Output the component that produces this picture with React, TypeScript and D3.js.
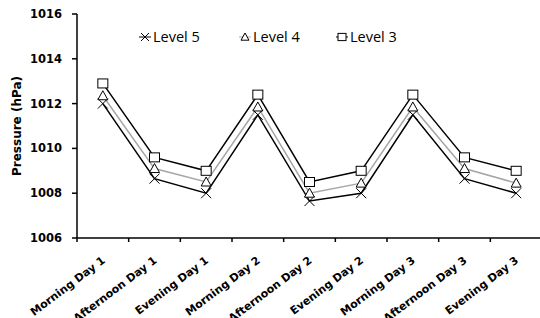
import React from 'react';
import * as d3 from 'd3';

const categories = ["Morning Day 1", "Afternoon Day 1", "Evening Day 1", "Morning Day 2", "Afternoon Day 2", "Evening Day 2", "Morning Day 3", "Afternoon Day 3", "Evening Day 3"];
const level5 = [1012.0, 1008.65, 1008.0, 1011.5, 1007.65, 1008.0, 1011.5, 1008.65, 1008.0];
const level4 = [1012.35, 1009.1, 1008.5, 1011.85, 1008.0, 1008.45, 1011.85, 1009.1, 1008.45];
const level3 = [1012.9, 1009.6, 1009.0, 1012.4, 1008.5, 1009.0, 1012.4, 1009.6, 1009.0];
const yTicks = [1006, 1008, 1010, 1012, 1014, 1016];

const series = [
  { name: 'Level 5', values: level5, color: '#000', marker: 'x' },
  { name: 'Level 4', values: level4, color: '#a6a6a6', marker: 'tri' },
  { name: 'Level 3', values: level3, color: '#000', marker: 'sq' },
];

const W = 540, H = 318;
const left = 77, right = 542, top = 14, bottom = 238;

const x = d3.scaleBand<string>().domain(categories).range([left, right]);
const y = d3.scaleLinear().domain([1006, 1016]).range([bottom, top]);

function Marker({ type, cx, cy, s = 5 }: { type: string; cx: number; cy: number; s?: number }) {
  if (type === 'x') {
    return <path d={`M${cx - s},${cy - s}L${cx + s},${cy + s}M${cx - s},${cy + s}L${cx + s},${cy - s}`} stroke="#000" strokeWidth={1} fill="none" />;
  }
  if (type === 'tri') {
    return <path d={`M${cx},${cy - s}L${cx + s},${cy + s * 0.8}L${cx - s},${cy + s * 0.8}Z`} stroke="#000" strokeWidth={1} fill="#fff" />;
  }
  return <rect x={cx - s} y={cy - s * 0.9} width={2 * s} height={s * 1.8} stroke="#000" strokeWidth={1} fill="#fff" />;
}

export default function App() {
  const line = d3.line<number>().x((_, i) => x(categories[i])! + x.bandwidth() / 2).y(d => y(d));
  const legendX = [145, 245, 342];
  return (
    <svg width={W} height={H} style={{ position: 'absolute', left: 0, top: 0, background: '#fff' }}>
      {/* y axis */}
      <line x1={left} x2={left} y1={top} y2={bottom} stroke="#000" strokeWidth={1.5} />
      {yTicks.map(t => (
        <g key={t}>
          <line x1={left - 5} x2={left} y1={y(t)} y2={y(t)} stroke="#000" strokeWidth={1.5} />
          <text x={62} y={y(t)} dy="0.35em" textAnchor="end" fontFamily="DejaVu Sans" fontWeight="bold" fontSize={11.5}>{t}</text>
        </g>
      ))}
      <text transform={`translate(21,${(top + bottom) / 2}) rotate(-90)`} textAnchor="middle" fontFamily="DejaVu Sans" fontWeight="bold" fontSize={12}>Pressure (hPa)</text>
      {/* x axis */}
      <line x1={left} x2={right} y1={bottom} y2={bottom} stroke="#000" strokeWidth={1.5} />
      {categories.map(c => (
        <g key={c}>
          <line x1={x(c)!} x2={x(c)!} y1={bottom} y2={bottom + 4} stroke="#000" strokeWidth={1.5} />
          <text transform={`translate(${x(c)! + x.bandwidth() / 2 + 3},${bottom + 24}) rotate(-37)`} textAnchor="end" fontFamily="DejaVu Sans" fontWeight="bold" fontSize={11}>{c}</text>
        </g>
      ))}
      {/* lines */}
      {series.map(s => (
        <path key={s.name} d={line(s.values)!} fill="none" stroke={s.color} strokeWidth={1.5} />
      ))}
      {series.map(s => (
        <g key={s.name + 'm'}>
          {s.values.map((v, i) => (
            <Marker key={i} type={s.marker} cx={x(categories[i])! + x.bandwidth() / 2} cy={y(v)} />
          ))}
        </g>
      ))}
      {/* legend */}
      {series.map((s, i) => (
        <g key={s.name + 'l'}>
          <line x1={legendX[i] - 6} x2={legendX[i] + 6} y1={37} y2={37} stroke={s.color} strokeWidth={1} />
          <Marker type={s.marker} cx={legendX[i]} cy={37} s={4} />
          <text x={legendX[i] + 8} y={37} dy="0.36em" fontFamily="Open Sans" fontSize={14.5}>{s.name}</text>
        </g>
      ))}
    </svg>
  );
}
